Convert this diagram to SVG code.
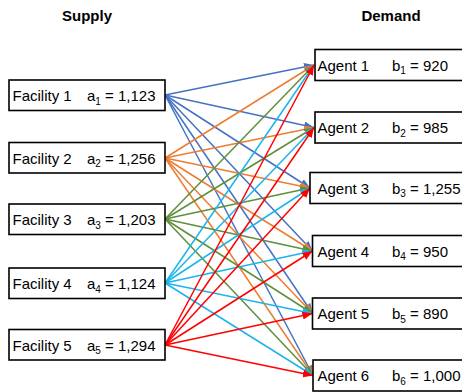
<svg xmlns="http://www.w3.org/2000/svg" width="462" height="392" viewBox="0 0 462 392">
<style>
  .box { fill: #fff; stroke: #000; stroke-width: 1.6; }
  .t { font-family: "Liberation Sans", Arial, sans-serif; font-size: 15px; fill: #000; }
  .h { font-family: "Liberation Sans", Arial, sans-serif; font-size: 15px; font-weight: bold; fill: #000; text-anchor: middle; }
  .sub { font-size: 10px; }
  .c1 { stroke: #4472C4; } .c2 { stroke: #ED7D31; } .c3 { stroke: #5E8F3A; } .c4 { stroke: #1CB4EC; } .c5 { stroke: #FF0000; }
  #connectors line { stroke-width: 1.5; fill: none; }
  .c1 { marker-end: url(#m1); } .c2 { marker-end: url(#m2); } .c3 { marker-end: url(#m3); } .c4 { marker-end: url(#m4); } .c5 { marker-end: url(#m5); }
</style>
<defs>
  <marker id="m1" markerUnits="userSpaceOnUse" viewBox="0 0 10 8" refX="10" refY="4" markerWidth="10" markerHeight="8" orient="auto"><path d="M0,0 L10,4 L0,8 Z" fill="#4472C4"/></marker>
  <marker id="m2" markerUnits="userSpaceOnUse" viewBox="0 0 10 8" refX="10" refY="4" markerWidth="10" markerHeight="8" orient="auto"><path d="M0,0 L10,4 L0,8 Z" fill="#ED7D31"/></marker>
  <marker id="m3" markerUnits="userSpaceOnUse" viewBox="0 0 10 8" refX="10" refY="4" markerWidth="10" markerHeight="8" orient="auto"><path d="M0,0 L10,4 L0,8 Z" fill="#5E8F3A"/></marker>
  <marker id="m4" markerUnits="userSpaceOnUse" viewBox="0 0 10 8" refX="10" refY="4" markerWidth="10" markerHeight="8" orient="auto"><path d="M0,0 L10,4 L0,8 Z" fill="#1CB4EC"/></marker>
  <marker id="m5" markerUnits="userSpaceOnUse" viewBox="0 0 10 8" refX="10" refY="4" markerWidth="10" markerHeight="8" orient="auto"><path d="M0,0 L10,4 L0,8 Z" fill="#FF0000"/></marker>
</defs>

<text class="h" x="87" y="21">Supply</text>
<text class="h" x="391" y="21">Demand</text>

<g id="connectors">
  <line class="c1" x1="165" y1="95" x2="314" y2="65"/>
  <line class="c1" x1="165" y1="95" x2="314" y2="127.5"/>
  <line class="c1" x1="165" y1="95" x2="310" y2="188"/>
  <line class="c1" x1="165" y1="95" x2="312.5" y2="251"/>
  <line class="c1" x1="165" y1="95" x2="312.5" y2="313.5"/>
  <line class="c1" x1="165" y1="95" x2="313" y2="375.5"/>

  <line class="c2" x1="165" y1="158" x2="314" y2="65"/>
  <line class="c2" x1="165" y1="158" x2="314" y2="127.5"/>
  <line class="c2" x1="165" y1="158" x2="310" y2="188"/>
  <line class="c2" x1="165" y1="158" x2="312.5" y2="251"/>
  <line class="c2" x1="165" y1="158" x2="312.5" y2="313.5"/>
  <line class="c2" x1="165" y1="158" x2="313" y2="375.5"/>

  <line class="c3" x1="165" y1="219" x2="314" y2="65"/>
  <line class="c3" x1="165" y1="219" x2="314" y2="127.5"/>
  <line class="c3" x1="165" y1="219" x2="310" y2="188"/>
  <line class="c3" x1="165" y1="219" x2="312.5" y2="251"/>
  <line class="c3" x1="165" y1="219" x2="312.5" y2="313.5"/>
  <line class="c3" x1="165" y1="219" x2="313" y2="375.5"/>

  <line class="c4" x1="165" y1="283" x2="314" y2="65"/>
  <line class="c4" x1="165" y1="283" x2="314" y2="127.5"/>
  <line class="c4" x1="165" y1="283" x2="310" y2="188"/>
  <line class="c4" x1="165" y1="283" x2="312.5" y2="251"/>
  <line class="c4" x1="165" y1="283" x2="312.5" y2="313.5"/>
  <line class="c4" x1="165" y1="283" x2="313" y2="375.5"/>

  <line class="c5" x1="165" y1="345" x2="314" y2="65"/>
  <line class="c5" x1="165" y1="345" x2="314" y2="127.5"/>
  <line class="c5" x1="165" y1="345" x2="310" y2="188"/>
  <line class="c5" x1="165" y1="345" x2="312.5" y2="251"/>
  <line class="c5" x1="165" y1="345" x2="312.5" y2="313.5"/>
  <line class="c5" x1="165" y1="345" x2="313" y2="375.5"/>
</g>

<g id="facility1">
  <rect class="box" x="9" y="80" width="156" height="30.5"/>
  <text class="t" x="12.5" y="101">Facility 1</text>
  <text class="t" x="87" y="101">a<tspan class="sub" dy="3.5">1</tspan><tspan dy="-3.5"> = 1,123</tspan></text>
</g>
<g id="facility2">
  <rect class="box" x="9" y="142.5" width="156" height="30.5"/>
  <text class="t" x="12.5" y="163.5">Facility 2</text>
  <text class="t" x="87" y="163.5">a<tspan class="sub" dy="3.5">2</tspan><tspan dy="-3.5"> = 1,256</tspan></text>
</g>
<g id="facility3">
  <rect class="box" x="9" y="204" width="156" height="30.5"/>
  <text class="t" x="12.5" y="225">Facility 3</text>
  <text class="t" x="87" y="225">a<tspan class="sub" dy="3.5">3</tspan><tspan dy="-3.5"> = 1,203</tspan></text>
</g>
<g id="facility4">
  <rect class="box" x="9" y="268" width="156" height="30.5"/>
  <text class="t" x="12.5" y="289">Facility 4</text>
  <text class="t" x="87" y="289">a<tspan class="sub" dy="3.5">4</tspan><tspan dy="-3.5"> = 1,124</tspan></text>
</g>
<g id="facility5">
  <rect class="box" x="9" y="329.5" width="156" height="30.5"/>
  <text class="t" x="12.5" y="350.5">Facility 5</text>
  <text class="t" x="87" y="350.5">a<tspan class="sub" dy="3.5">5</tspan><tspan dy="-3.5"> = 1,294</tspan></text>
</g>

<g id="agent1">
  <rect class="box" x="315" y="49.5" width="160" height="31"/>
  <text class="t" x="317.5" y="70.5">Agent 1</text>
  <text class="t" x="392" y="70.5">b<tspan class="sub" dy="3.5">1</tspan><tspan dy="-3.5"> = 920</tspan></text>
</g>
<g id="agent2">
  <rect class="box" x="315" y="112" width="160" height="31"/>
  <text class="t" x="317.5" y="133">Agent 2</text>
  <text class="t" x="392" y="133">b<tspan class="sub" dy="3.5">2</tspan><tspan dy="-3.5"> = 985</tspan></text>
</g>
<g id="agent3">
  <rect class="box" x="310" y="172.5" width="165" height="31"/>
  <text class="t" x="317.5" y="193.5">Agent 3</text>
  <text class="t" x="392" y="193.5">b<tspan class="sub" dy="3.5">3</tspan><tspan dy="-3.5"> = 1,255</tspan></text>
</g>
<g id="agent4">
  <rect class="box" x="312.5" y="235.5" width="163" height="31"/>
  <text class="t" x="317.5" y="256.5">Agent 4</text>
  <text class="t" x="392" y="256.5">b<tspan class="sub" dy="3.5">4</tspan><tspan dy="-3.5"> = 950</tspan></text>
</g>
<g id="agent5">
  <rect class="box" x="312.5" y="298" width="163" height="31"/>
  <text class="t" x="317.5" y="319">Agent 5</text>
  <text class="t" x="392" y="319">b<tspan class="sub" dy="3.5">5</tspan><tspan dy="-3.5"> = 890</tspan></text>
</g>
<g id="agent6">
  <rect class="box" x="313" y="360" width="163" height="31"/>
  <text class="t" x="317.5" y="381">Agent 6</text>
  <text class="t" x="392" y="381">b<tspan class="sub" dy="3.5">6</tspan><tspan dy="-3.5"> = 1,000</tspan></text>
</g>
</svg>
